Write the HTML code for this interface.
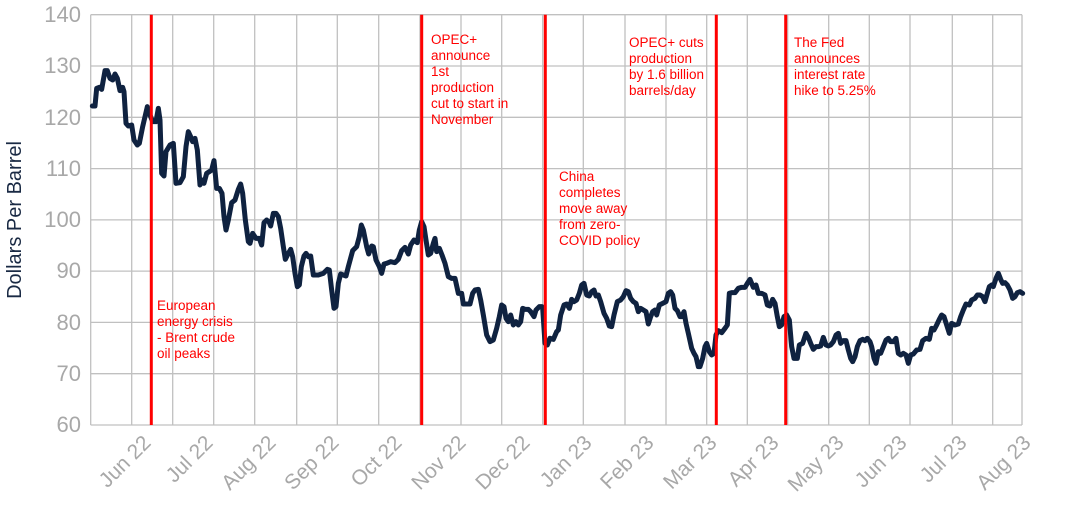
<!DOCTYPE html>
<html><head><meta charset="utf-8"><style>
html,body{margin:0;padding:0;background:#fff;}
svg{display:block;font-family:"Liberation Sans",sans-serif;}
</style></head><body>
<svg width="1066" height="523" viewBox="0 0 1066 523" xmlns="http://www.w3.org/2000/svg">
<g stroke="#c0c0c0" stroke-width="1.3" fill="none">
<line x1="90.7" y1="14.7" x2="1022" y2="14.7"/>
<line x1="90.7" y1="66" x2="1022" y2="66"/>
<line x1="90.7" y1="117.3" x2="1022" y2="117.3"/>
<line x1="90.7" y1="168.6" x2="1022" y2="168.6"/>
<line x1="90.7" y1="219.9" x2="1022" y2="219.9"/>
<line x1="90.7" y1="271.1" x2="1022" y2="271.1"/>
<line x1="90.7" y1="322.4" x2="1022" y2="322.4"/>
<line x1="90.7" y1="373.7" x2="1022" y2="373.7"/>
<line x1="90.7" y1="425" x2="1022" y2="425"/>
<line x1="90.7" y1="14.7" x2="90.7" y2="425"/>
<line x1="131.7" y1="14.7" x2="131.7" y2="425"/>
<line x1="172.7" y1="14.7" x2="172.7" y2="425"/>
<line x1="213.7" y1="14.7" x2="213.7" y2="425"/>
<line x1="254.7" y1="14.7" x2="254.7" y2="425"/>
<line x1="296.7" y1="14.7" x2="296.7" y2="425"/>
<line x1="337.3" y1="14.7" x2="337.3" y2="425"/>
<line x1="378.7" y1="14.7" x2="378.7" y2="425"/>
<line x1="420" y1="14.7" x2="420" y2="425"/>
<line x1="461" y1="14.7" x2="461" y2="425"/>
<line x1="501.7" y1="14.7" x2="501.7" y2="425"/>
<line x1="542.7" y1="14.7" x2="542.7" y2="425"/>
<line x1="583.3" y1="14.7" x2="583.3" y2="425"/>
<line x1="625" y1="14.7" x2="625" y2="425"/>
<line x1="666" y1="14.7" x2="666" y2="425"/>
<line x1="706.7" y1="14.7" x2="706.7" y2="425"/>
<line x1="747.3" y1="14.7" x2="747.3" y2="425"/>
<line x1="787.7" y1="14.7" x2="787.7" y2="425"/>
<line x1="828.7" y1="14.7" x2="828.7" y2="425"/>
<line x1="869.3" y1="14.7" x2="869.3" y2="425"/>
<line x1="910" y1="14.7" x2="910" y2="425"/>
<line x1="952.3" y1="14.7" x2="952.3" y2="425"/>
<line x1="992.7" y1="14.7" x2="992.7" y2="425"/>
<line x1="1022" y1="14.7" x2="1022" y2="425"/>
</g>
<g fill="#a8a8a8" font-size="22" text-anchor="end">
<text x="81" y="22">140</text><text x="81" y="73">130</text><text x="81" y="125">120</text>
<text x="81" y="176">110</text><text x="81" y="227">100</text><text x="81" y="278">90</text>
<text x="81" y="330">80</text><text x="81" y="381">70</text><text x="81" y="432">60</text>
</g>
<text transform="translate(21,220) rotate(-90)" text-anchor="middle" font-size="20" fill="#1a2a44">Dollars Per Barrel</text>
<g fill="#a8a8a8" font-size="21" text-anchor="end">
<text transform="translate(152,444) rotate(-45)">Jun 22</text>
<text transform="translate(214,444) rotate(-45)">Jul 22</text>
<text transform="translate(277,444) rotate(-45)">Aug 22</text>
<text transform="translate(340,444) rotate(-45)">Sep 22</text>
<text transform="translate(403,444) rotate(-45)">Oct 22</text>
<text transform="translate(467,444) rotate(-45)">Nov 22</text>
<text transform="translate(531,444) rotate(-45)">Dec 22</text>
<text transform="translate(593,444) rotate(-45)">Jan 23</text>
<text transform="translate(655,444) rotate(-45)">Feb 23</text>
<text transform="translate(718,444) rotate(-45)">Mar 23</text>
<text transform="translate(780,444) rotate(-45)">Apr 23</text>
<text transform="translate(845,444) rotate(-45)">May 23</text>
<text transform="translate(908,444) rotate(-45)">Jun 23</text>
<text transform="translate(968,444) rotate(-45)">Jul 23</text>
<text transform="translate(1032,444) rotate(-45)">Aug 23</text>
</g>
<g stroke="#0f2240" stroke-width="15" fill="none" stroke-linejoin="round" stroke-linecap="round">
<polyline transform="translate(60,0) scale(0.33333)" points="97,318 105,318 110,265 118,262 125,268 135,212 142,212 150,235 158,240 165,222 172,235 180,272 188,262 192,275 198,370 205,378 215,375 222,420 232,435 238,430 248,380 262,320 268,340 278,365 288,365 295,325 300,360 305,520 312,528 318,455 330,435 340,430 348,550 360,548 370,530 378,440 385,395 392,410 398,425 405,415 412,450 420,555 428,540 432,550 440,520 448,515 455,510 462,482 470,565 478,565 486,580 492,650 498,690 505,660 515,608 525,600 535,568 542,552 548,580 556,660 565,725 570,730 578,700 588,715 598,715 605,735 612,668 620,660 628,668 632,678 640,640 648,640 655,650 662,685 670,740 676,778 685,760 692,748 698,770 705,820 712,860 718,855 724,800 732,768 738,760 745,770 752,768 760,825 775,825 790,820 802,808 808,810 815,870 822,925 828,920 835,850 842,822 850,825 858,828 865,800 878,752 890,740 898,710 904,675 910,690 920,740 926,762 935,738 940,740 948,780 958,800 965,820 972,792 980,790 992,785 1005,788 1015,778 1025,752 1035,742 1045,762 1052,735 1062,720 1072,728 1078,690 1085,665 1092,680 1098,720 1105,765 1112,760 1120,730 1125,715 1130,755 1138,745 1146,765 1155,790 1165,830 1175,835 1185,835 1195,880 1205,880 1210,912 1222,912 1230,912 1238,880 1245,870 1255,868 1262,900 1270,945 1280,1005 1290,1025 1300,1020 1310,985 1318,950 1325,915 1332,920 1338,955 1345,965 1352,945 1360,975 1368,965 1375,975 1382,965 1388,925 1395,928 1405,928 1412,935 1422,950 1428,930 1438,920 1446,920 1448,924"/>
<polyline transform="translate(540,0) scale(0.33333)" points="8,925 15,1030 22,1035 30,1015 40,1018 50,995 55,990 62,945 72,915 80,912 88,925 95,898 102,905 110,900 118,880 125,855 132,850 140,885 148,888 155,875 162,870 168,888 175,885 182,905 192,940 200,955 208,978 215,980 222,945 232,905 242,900 250,890 258,872 265,875 272,895 280,905 288,910 295,935 302,925 310,930 318,935 325,972 332,950 338,935 345,930 350,945 358,915 368,910 378,905 385,880 392,875 398,885 405,925 412,932 420,950 425,950 432,935 438,970 445,1000 455,1045 462,1060 468,1070 475,1100 480,1100 488,1075 495,1040 500,1030 508,1055 515,1065 522,1060 528,1005 535,992 545,998 555,985 562,975 568,880 575,878 585,878 595,865 605,862 615,862 622,850 630,838 640,862 648,855 655,880 665,880 675,885 682,915 690,918 698,898 705,910 712,950 718,980 725,975 732,950 740,945 748,960 755,1040 762,1075 772,1075 778,1035 788,1030 798,1000 805,1012 812,1030 820,1048 828,1040 835,1040 842,1038 850,1012 858,1035 865,1038 872,1035 880,1025 888,1005 895,1000 902,1030 910,1022 918,1022 925,1050 932,1075 938,1085 945,1070 952,1040 960,1022 968,1018 975,1022 982,1015 990,1025 995,1040 1002,1075 1008,1090 1015,1055 1022,1060 1030,1040 1038,1020 1045,1015 1052,1025 1060,1025 1068,1015 1075,1060 1082,1065 1090,1060 1098,1065 1105,1090 1112,1065 1120,1062 1130,1050 1140,1048 1148,1022 1158,1015 1168,1018 1175,985 1182,990 1190,975 1198,958 1205,945 1212,950 1220,975 1228,1000 1235,970 1245,975 1255,972 1262,950 1270,930 1278,912 1288,915 1295,900 1305,895 1312,885 1320,885 1328,890 1335,905 1342,880 1348,860 1355,855 1360,860 1368,835 1375,820 1382,838 1388,850 1395,848 1402,855 1410,870 1418,895 1425,890 1432,878 1440,875 1448,880"/>
</g>
<g stroke="#ff0000" stroke-width="3">
<line x1="151.3" y1="14.7" x2="151.3" y2="425"/>
<line x1="421.7" y1="14.7" x2="421.7" y2="425"/>
<line x1="545.3" y1="14.7" x2="545.3" y2="425"/>
<line x1="716.3" y1="14.7" x2="716.3" y2="425"/>
<line x1="785.7" y1="14.7" x2="785.7" y2="425"/>
</g>
<g fill="#ff0000" font-size="13.5">
<text x="157" y="310">European</text><text x="157" y="326">energy crisis</text><text x="157" y="342">- Brent crude</text><text x="157" y="358">oil peaks</text>
<text x="431" y="44">OPEC+</text><text x="431" y="60">announce</text><text x="431" y="76">1st</text><text x="431" y="92">production</text><text x="431" y="108">cut to start in</text><text x="431" y="124">November</text>
<text x="559" y="181">China</text><text x="559" y="197">completes</text><text x="559" y="213">move away</text><text x="559" y="229">from zero-</text><text x="559" y="245">COVID policy</text>
<text x="629" y="47">OPEC+ cuts</text><text x="629" y="63">production</text><text x="629" y="79">by 1.6 billion</text><text x="629" y="95">barrels/day</text>
<text x="794" y="47">The Fed</text><text x="794" y="63">announces</text><text x="794" y="79">interest rate</text><text x="794" y="95">hike to 5.25%</text>
</g>
</svg>
</body></html>
